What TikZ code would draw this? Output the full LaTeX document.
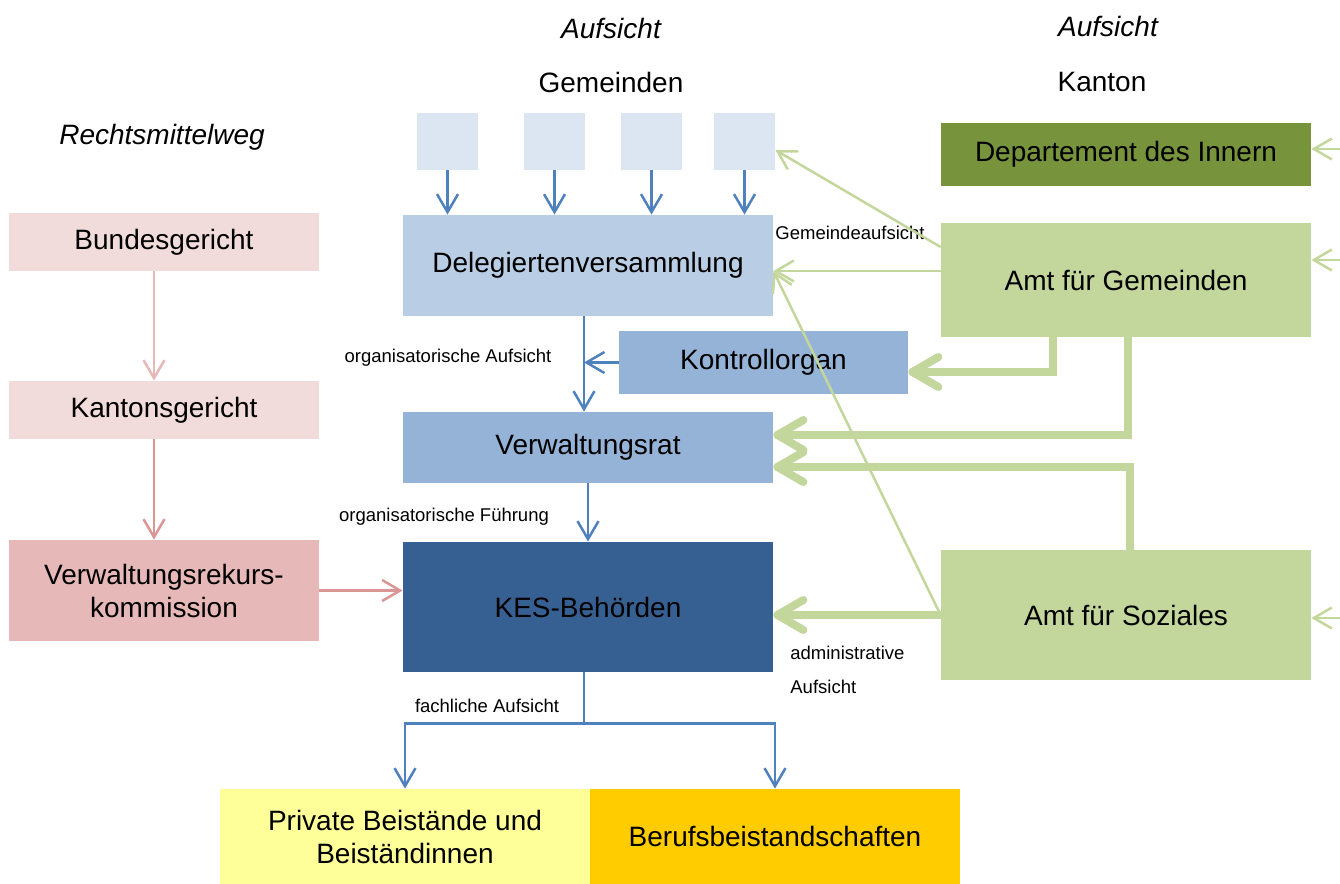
\documentclass[tikz,border=0pt]{standalone}
\usepackage{fontspec}
\setmainfont{Liberation Sans}
\usetikzlibrary{arrows.meta, positioning}

\definecolor{gemfill}{HTML}{DCE6F2}
\definecolor{delegfill}{HTML}{B9CDE5}
\definecolor{orgfill}{HTML}{95B3D7}
\definecolor{kesfill}{HTML}{376092}
\definecolor{privfill}{HTML}{FFFF99}
\definecolor{beruffill}{HTML}{FFCC00}
\definecolor{gerfill}{HTML}{F2DCDB}
\definecolor{vrkfill}{HTML}{E6B9B8}
\definecolor{depfill}{HTML}{77933C}
\definecolor{amtfill}{HTML}{C3D69B}
\definecolor{arrblue}{HTML}{4F81BD}
\definecolor{arrpink}{HTML}{D99694}

\begin{document}
\begin{tikzpicture}[
    x=0.5pt, y=-0.5pt,
    every node/.style={font=\fontsize{14}{16.5}\selectfont, inner sep=0pt},
    box/.style={minimum width=185pt, align=center},
    gembox/.style={fill=gemfill, minimum width=30.5pt, minimum height=28.5pt},
    gerbox/.style={minimum width=155pt, minimum height=29pt, fill=gerfill, align=center},
    head/.style={font=\fontsize{14}{16.5}\selectfont\itshape},
    slabel/.style={font=\fontsize{9.25}{11}\selectfont},
    barr/.style={-{Straight Barb[length=9pt, width=10.5pt]}, line width=1.25pt, draw=arrblue},
    bline/.style={line width=1.25pt, draw=arrblue},
    parr/.style={-{Straight Barb[length=9pt, width=10.5pt]}, line width=1.25pt, draw=arrpink},
    garr/.style={-{Straight Barb[length=9pt, width=10.5pt]}, line width=1.25pt, draw=amtfill},
    gthick/.style={-{Straight Barb[length=13pt, width=15pt, round]}, line width=4pt, draw=amtfill}
  ]
  \useasboundingbox (0,0) rectangle (1340,884);

  % --- Headings ---
  \node[head] (aufgem) at (611,28) {Aufsicht};
  \node (gemeinden) at (611,82) {Gemeinden};
  \node[head] (aufkan) at (1108,26) {Aufsicht};
  \node (kanton) at (1102,82) {Kanton};
  \node[head] (rmw) at (162,137) {Rechtsmittelweg};

  % --- Gemeinden ---
  \node[gembox] (g1) at (447.5,141.5) {};
  \node[gembox] (g2) at (554.5,141.5) {};
  \node[gembox] (g3) at (651.5,141.5) {};
  \node[gembox] (g4) at (744.5,141.5) {};

  % --- Middle column ---
  \node[box, fill=delegfill, minimum height=50.5pt] (deleg) at (588,265.5) {Delegiertenversammlung};
  \node[box, fill=orgfill, minimum width=144.5pt, minimum height=31.5pt] (kontroll) at (763.5,362.5) {Kontrollorgan};
  \node[box, fill=orgfill, minimum height=35.5pt] (verwalt) at (588,447.5) {Verwaltungsrat};
  \node[box, fill=kesfill, minimum height=65pt] (kes) at (588,607) {KES-Behörden};
  \node[box, fill=privfill, minimum height=47.5pt] (privat) at (405,836.5) {Private Beistände und\\Beiständinnen};
  \node[box, fill=beruffill, minimum height=47.5pt] (beruf) at (775,836.5) {Berufsbeistandschaften};

  % --- Rechtsmittelweg ---
  \node[gerbox] (bundes) at (164,242) {Bundesgericht};
  \node[gerbox] (kantons) at (164,410) {Kantonsgericht};
  \node[gerbox, fill=vrkfill, minimum height=50.5pt] (vrk) at (164,590.5) {Verwaltungsrekurs-\\kommission};

  % --- Kanton ---
  \node[box, fill=depfill, minimum height=31.5pt] (dep) at (1126,154.5) {Departement des Innern};
  \node[box, fill=amtfill, minimum height=57pt] (amtgem) at (1126,280) {Amt für Gemeinden};
  \node[box, fill=amtfill, minimum height=65pt] (amtsoz) at (1126,615) {Amt für Soziales};

  % --- Connector labels ---
  \node[slabel] (lorgauf) at (448,358) {organisatorische Aufsicht};
  \node[slabel] (lorgfue) at (444,517) {organisatorische Führung};
  \node[slabel] (lgemauf) at (850,233) {Gemeindeaufsicht};
  \node[slabel, anchor=west, align=left, font=\fontsize{9.25}{17}\selectfont] (ladmin) at (790,670) {administrative\\Aufsicht};
  \node[slabel] (lfach) at (487,706) {fachliche Aufsicht};

  % --- Blue arrows ---
  \foreach \g in {g1,g2,g3,g4}
    \draw[barr] (\g.south) -- (\g.south |- deleg.north);
  \coordinate (orgline) at ([xshift=-2pt]deleg.south);
  \draw[barr] (orgline) -- (orgline |- verwalt.north);
  \draw[barr] (kontroll.west) -- (kontroll.west -| orgline);
  \draw[barr] (verwalt.south) -- (kes.north);
  \coordinate (fork) at ([xshift=-2pt, yshift=-25.5pt]kes.south);
  \draw[bline] (fork |- kes.south) -- (fork);
  \draw[barr] (fork) -| (privat.north);
  \draw[barr] (fork) -| (beruf.north);

  % --- Pink arrows ---
  \draw[parr, draw=vrkfill] ([xshift=-5pt]bundes.south) -- ([xshift=-5pt]kantons.north);
  \draw[parr] ([xshift=-5pt]kantons.south) -- ([xshift=-5pt]vrk.north);
  \draw[parr] (vrk.east) -- (vrk.east -| kes.west);

  % --- Green arrows ---
  \coordinate (delin) at ([yshift=-2.75pt]deleg.east);
  \draw[garr] ([yshift=16.5pt]amtgem.west) -- ([yshift=-4.25pt]g4.east);
  \draw[garr] (delin -| amtgem.west) -- (delin);
  \draw[garr] (amtsoz.west) -- (delin);
  \draw[gthick] ([xshift=-36.5pt]amtgem.south) |- ([yshift=-4.75pt]kontroll.east);
  \draw[gthick] ([xshift=1pt]amtgem.south) |- ([yshift=6.25pt]verwalt.east);
  \draw[gthick] ([xshift=2pt]amtsoz.north) |- ([yshift=-9.75pt]verwalt.east);
  \draw[gthick] (amtsoz.west) -- (amtsoz.west -| kes.east);

  % --- Arrows from outside ---
  \coordinate (indep) at (1350,149);
  \coordinate (ingem) at (1350,260);
  \coordinate (insoz) at (1350,618);
  \draw[garr] (indep) -- (indep -| dep.east);
  \draw[garr] (ingem) -- (ingem -| amtgem.east);
  \draw[garr] (insoz) -- (insoz -| amtsoz.east);

\end{tikzpicture}
\end{document}
